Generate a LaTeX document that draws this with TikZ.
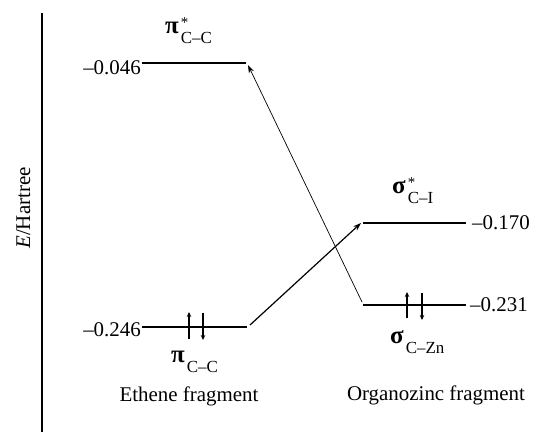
\documentclass[tikz,border=0pt]{standalone}
\usepackage{fontspec}
\setmainfont{Liberation Serif}
\usetikzlibrary{arrows.meta}
\newcommand{\orbl}[3]{{\fontsize{25}{25}\selectfont\textbf{#1}}\hspace{2bp}\rlap{\raisebox{6bp}{\fontsize{15}{15}\selectfont #2}}\raisebox{-10bp}{\fontsize{17}{17}\selectfont #3}}
\tikzset{
  lvl/.style={line width=1.6bp},
  txt/.style={inner sep=0pt, font=\fontsize{21}{24}\selectfont},
  elec/.style={line width=1.3bp, -{Stealth[length=5bp,width=4.5bp]}},
  conthick/.style={line width=1.2bp, -{Stealth[length=8bp,width=5.5bp]}},
  conthin/.style={line width=0.7bp, -{Stealth[length=8bp,width=5.5bp]}}
}
\begin{document}
\begin{tikzpicture}[x=1bp,y=-1bp]
\useasboundingbox (0,0) rectangle (534,432);
% axis
\coordinate (axtop) at (42,13);
\coordinate (axbot) at (42,432);
\draw[line width=1.5bp] (axtop) -- (axbot);
\node[txt, rotate=90, anchor=base] (elab) at (30,208) {\textit{E}/Hartree};
% level coordinates
\coordinate (pisL) at (142,63);  \coordinate (pisR) at (246,63);
\coordinate (piL)  at (142,327); \coordinate (piR)  at (247,327);
\coordinate (sisL) at (363,223); \coordinate (sisR) at (466,223);
\coordinate (siL)  at (363,305); \coordinate (siR)  at (466,305);
\draw[lvl] (pisL) -- (pisR);
\draw[lvl] (piL) -- (piR);
\draw[lvl] (sisL) -- (sisR);
\draw[lvl] (siL) -- (siR);
% energy values
\node[txt, anchor=base east] (v1) at (141,74) {–0.046};
\node[txt, anchor=base east] (v2) at (141,336) {–0.246};
\node[txt, anchor=base west] (v3) at (472,229) {–0.170};
\node[txt, anchor=base west] (v4) at (470,311) {–0.231};
% orbital labels
\node[txt, anchor=base west] (o1) at (165,33) {\orbl{π}{*}{C–C}};
\node[txt, anchor=base west] (o2) at (171,362) {\orbl{π}{}{C–C}};
\node[txt, anchor=base west] (o3) at (392,193) {\orbl{σ}{*}{C–I}};
\node[txt, anchor=base west] (o4) at (390,343) {\orbl{σ}{}{C–Zn}};
% fragment labels
\node[txt, anchor=base] (f1) at (189,401) {Ethene fragment};
\node[txt, anchor=base] (f2) at (436,400) {Organozinc fragment};
% electrons
\coordinate (e1a) at (189,339); \coordinate (e1b) at (189,312);
\coordinate (e2a) at (203,313); \coordinate (e2b) at (203,340);
\coordinate (e3a) at (407,318); \coordinate (e3b) at (407,292);
\coordinate (e4a) at (422,293); \coordinate (e4b) at (422,320);
\draw[elec] (e1a) -- (e1b);
\draw[elec] (e2a) -- (e2b);
\draw[elec] (e3a) -- (e3b);
\draw[elec] (e4a) -- (e4b);
% connectors
\coordinate (c1s) at (250,325); \coordinate (c1e) at (361,223);
\coordinate (c2s) at (362,302); \coordinate (c2e) at (248,65);
\draw[conthick] (c1s) -- (c1e);
\draw[conthin] (c2s) -- (c2e);
\end{tikzpicture}
\end{document}
